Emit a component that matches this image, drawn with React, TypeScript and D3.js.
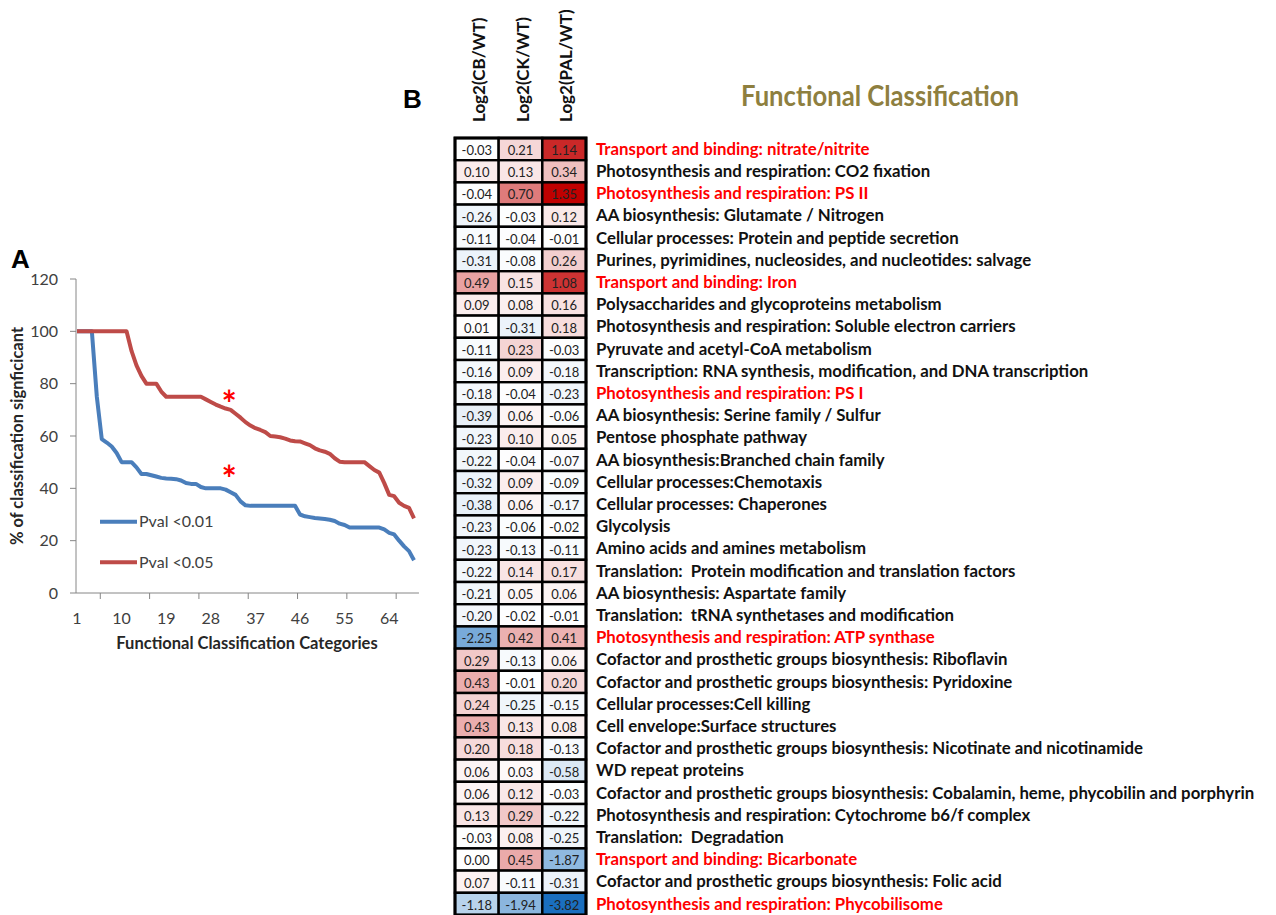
import * as d3 from 'd3'

const W = 1276
const H = 915

// ---- panel A: cumulative % of classifications that are significant ----
const categories = d3.range(1, 70)
const pval01 = [
  100, 100, 100, 100, 75, 58.8, 57.5, 56, 53.5, 50,
  50, 50, 48, 45.5, 45.5, 45, 44.5, 44, 43.8, 43.7,
  43.5, 43, 42, 41.7, 41.7, 40.5, 40, 40, 40, 40,
  39.5, 38.5, 37.5, 35, 33.5, 33.3, 33.3, 33.3, 33.3, 33.3,
  33.3, 33.3, 33.3, 33.3, 33.3, 30, 29.3, 29, 28.7, 28.5,
  28.3, 28, 27.5, 26.5, 26, 25, 25, 25, 25, 25,
  25, 25, 24.3, 23, 22.4, 20, 17.8, 16, 12.5
]
const pval05 = [
  100, 100, 100, 100, 100, 100, 100, 100, 100, 100,
  100, 92.5, 87, 83, 80, 80, 80, 77, 75, 75,
  75, 75, 75, 75, 75, 75, 74, 73, 72, 71.2,
  70.5, 70, 68.5, 67, 65.3, 64, 63, 62.3, 61.5, 60,
  59.8, 59.5, 59, 58.3, 58, 57.9, 57.2, 56.5, 55.3, 54.5,
  54, 53.2, 51.5, 50.2, 50, 50, 50, 50, 50, 48.5,
  47, 46, 42, 37.5, 37, 34.5, 33.3, 32.5, 28.5
]
const xTickLabels = [1, 10, 19, 28, 37, 46, 55, 64]
const xTickMarks = [5.7, 15.65, 25.6, 35.55, 45.5, 55.45, 65.4]
const yTicks = [0, 20, 40, 60, 80, 100, 120]
const stars = [
  { cat: 31.7, value: 74.5 },
  { cat: 31.7, value: 45.8 }
]

// ---- panel B: log2 fold changes per functional class ----
const columns = ['Log2(CB/WT)', 'Log2(CK/WT)', 'Log2(PAL/WT)']
const classes = [
  'Transport and binding: nitrate/nitrite',
  'Photosynthesis and respiration: CO2 fixation',
  'Photosynthesis and respiration: PS II',
  'AA biosynthesis: Glutamate / Nitrogen',
  'Cellular processes: Protein and peptide secretion',
  'Purines, pyrimidines, nucleosides, and nucleotides: salvage',
  'Transport and binding: Iron',
  'Polysaccharides and glycoproteins metabolism',
  'Photosynthesis and respiration: Soluble electron carriers',
  'Pyruvate and acetyl-CoA metabolism',
  'Transcription: RNA synthesis, modification, and DNA transcription',
  'Photosynthesis and respiration: PS I',
  'AA biosynthesis: Serine family / Sulfur',
  'Pentose phosphate pathway',
  'AA biosynthesis:Branched chain family',
  'Cellular processes:Chemotaxis',
  'Cellular processes: Chaperones',
  'Glycolysis',
  'Amino acids and amines metabolism',
  'Translation:  Protein modification and translation factors',
  'AA biosynthesis: Aspartate family',
  'Translation:  tRNA synthetases and modification',
  'Photosynthesis and respiration: ATP synthase',
  'Cofactor and prosthetic groups biosynthesis: Riboflavin',
  'Cofactor and prosthetic groups biosynthesis: Pyridoxine',
  'Cellular processes:Cell killing',
  'Cell envelope:Surface structures',
  'Cofactor and prosthetic groups biosynthesis: Nicotinate and nicotinamide',
  'WD repeat proteins',
  'Cofactor and prosthetic groups biosynthesis: Cobalamin, heme, phycobilin and porphyrin',
  'Photosynthesis and respiration: Cytochrome b6/f complex',
  'Translation:  Degradation',
  'Transport and binding: Bicarbonate',
  'Cofactor and prosthetic groups biosynthesis: Folic acid',
  'Photosynthesis and respiration: Phycobilisome'
]
const cb = [
  -0.03, 0.10, -0.04, -0.26, -0.11, -0.31, 0.49, 0.09, 0.01, -0.11,
  -0.16, -0.18, -0.39, -0.23, -0.22, -0.32, -0.38, -0.23, -0.23, -0.22,
  -0.21, -0.20, -2.25, 0.29, 0.43, 0.24, 0.43, 0.20, 0.06, 0.06,
  0.13, -0.03, 0.00, 0.07, -1.18
]
const ck = [
  0.21, 0.13, 0.70, -0.03, -0.04, -0.08, 0.15, 0.08, -0.31, 0.23,
  0.09, -0.04, 0.06, 0.10, -0.04, 0.09, 0.06, -0.06, -0.13, 0.14,
  0.05, -0.02, 0.42, -0.13, -0.01, -0.25, 0.13, 0.18, 0.03, 0.12,
  0.29, 0.08, 0.45, -0.11, -1.94
]
const pal = [
  1.14, 0.34, 1.35, 0.12, -0.01, 0.26, 1.08, 0.16, 0.18, -0.03,
  -0.18, -0.23, -0.06, 0.05, -0.07, -0.09, -0.17, -0.02, -0.11, 0.17,
  0.06, -0.01, 0.41, 0.06, 0.20, -0.15, 0.08, -0.13, -0.58, -0.03,
  -0.22, -0.25, -1.87, -0.31, -3.82
]
const highlighted = [0, 2, 6, 11, 22, 32, 34]

const FONT = 'Lato, "Open Sans", sans-serif'

function LinePanel() {
  const x = d3.scaleLinear().domain([1, 69]).range([77, 414])
  const y = d3.scaleLinear().domain([0, 120]).range([593, 279])
  const line = d3.line<number>().x((_, i) => x(categories[i])).y(d => y(d))
  const series = [
    { name: 'Pval <0.01', values: pval01, color: '#4A7EBB' },
    { name: 'Pval <0.05', values: pval05, color: '#BE4B48' }
  ]
  const axisColor = '#868686'
  const textColor = '#404040'
  return (
    <g fontFamily={FONT}>
      <text x={11} y={268} fontFamily="Arial, Liberation Sans, sans-serif" fontWeight="bold" fontSize={26}>A</text>
      {yTicks.map(t => (
        <g key={t}>
          <line x1={70} x2={76} y1={y(t)} y2={y(t)} stroke={axisColor} />
          <text x={58} y={y(t)} dy="0.36em" textAnchor="end" fontSize={16} fill={textColor}>{t}</text>
        </g>
      ))}
      <line x1={76} x2={76} y1={y(120)} y2={y(0)} stroke={axisColor} />
      <line x1={76} x2={x(70)} y1={y(0)} y2={y(0)} stroke={axisColor} />
      {xTickMarks.map(c => (
        <line key={c} x1={x(c)} x2={x(c)} y1={y(0)} y2={y(0) + 6} stroke={axisColor} />
      ))}
      {xTickLabels.map(c => (
        <text key={c} x={x(c)} y={623.5} textAnchor="middle" fontSize={16} fill={textColor}>{c}</text>
      ))}
      <text x={247} y={649} textAnchor="middle" fontWeight="bold" fontSize={16.5} fill="#262626">
        Functional Classification Categories
      </text>
      <text transform="translate(23,436) rotate(-90)" textAnchor="middle" fontWeight="bold" fontSize={16.5} fill="#262626">
        % of classification signficicant
      </text>
      {series.map(s => (
        <path key={s.name} d={line(s.values) ?? ''} fill="none" stroke={s.color} strokeWidth={4} strokeLinejoin="round" />
      ))}
      {stars.map((s, i) => (
        <text key={i} x={x(s.cat)} y={y(s.value) + 19} textAnchor="middle" fontWeight="bold" fontSize={36} fill="#FF0000">*</text>
      ))}
      {series.map((s, i) => (
        <g key={s.name} transform={`translate(100,${521.7 + i * 40.6})`}>
          <line x1={0} x2={37} stroke={s.color} strokeWidth={4} />
          <text x={39} dy="0.36em" fontSize={16} fill={textColor}>{s.name}</text>
        </g>
      ))}
    </g>
  )
}

function HeatPanel() {
  const rows = classes.map((name, i) => ({ name, i, vals: [cb[i], ck[i], pal[i]] }))
  const all = [...cb, ...ck, ...pal]
  const step = 22.2
  const x = d3.scaleBand<string>().domain(columns).range([455, 586])
  const y = d3.scaleBand<number>().domain(d3.range(classes.length)).range([138, 138 + classes.length * step])
  const color = d3.scaleLinear<string>()
    .domain([d3.min(all) as number, 0, d3.max(all) as number])
    .range(['#1A6FBF', '#FFFFFF', '#C00000'])
    .clamp(true)
  const h = y.bandwidth()
  const cx = (c: string) => (x(c) as number) + x.bandwidth() / 2
  return (
    <g fontFamily={FONT}>
      <text x={403} y={108} fontFamily="Arial, Liberation Sans, sans-serif" fontWeight="bold" fontSize={26}>B</text>
      <text x={880} y={106} textAnchor="middle" fontWeight="bold" fontSize={28.5} fill="#8E7F3F"
        transform="translate(880,0) scale(0.9,1) translate(-880,0)">
        Functional Classification
      </text>
      {columns.map(c => (
        <text key={c} transform={`translate(${cx(c) + 8},122) rotate(-90)`}
          fontWeight="bold" fontSize={17} fill="#111">{c}</text>
      ))}
      {rows.map(r => (
        <g key={r.i}>
          {r.vals.map((v, j) => (
            <g key={j}>
              <rect x={x(columns[j])} y={y(r.i)} width={x.bandwidth()} height={h}
                fill={color(v)} stroke="#000" strokeWidth={2.4} />
              <text x={cx(columns[j])} y={(y(r.i) as number) + 17}
                textAnchor="middle" fontSize={13} fill="#222">{v.toFixed(2)}</text>
            </g>
          ))}
          <text x={596} y={(y(r.i) as number) + 16.8} fontWeight="bold" fontSize={16.8}
            style={{ whiteSpace: 'pre' }}
            fill={highlighted.includes(r.i) ? '#FF0000' : '#111'}>{r.name}</text>
        </g>
      ))}
      <rect x={455} y={138} width={131} height={classes.length * step} fill="none" stroke="#000" strokeWidth={3} />
    </g>
  )
}

export default function App() {
  return (
    <div style={{ position: 'fixed', left: 0, top: 0, width: W, height: H, overflow: 'hidden', background: '#fff' }}>
      <svg width={W} height={H}>
        <rect width={W} height={H} fill="#fff" />
        <LinePanel />
        <HeatPanel />
      </svg>
    </div>
  )
}
